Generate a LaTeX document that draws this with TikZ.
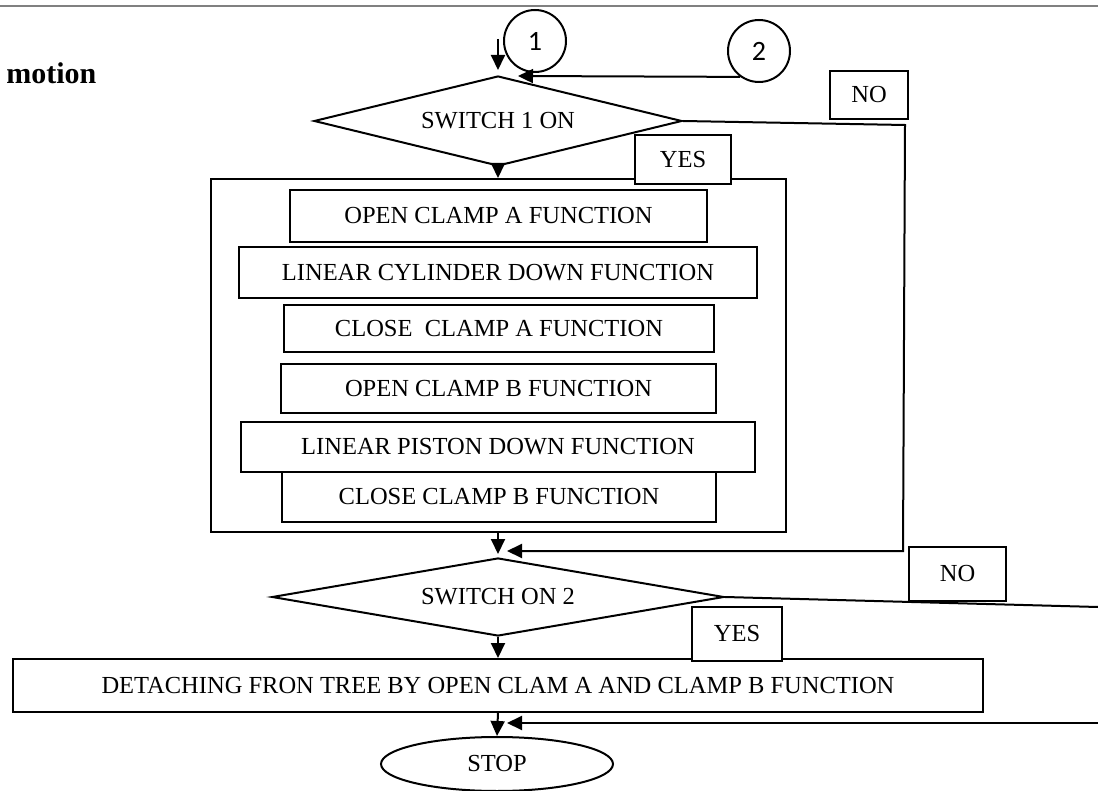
\documentclass[tikz,border=0pt]{standalone}
\usepackage{fontspec}
\setmainfont{Liberation Serif}
\newfontfamily\numfont{Carlito}
\usetikzlibrary{shapes.geometric,arrows.meta}

\begin{document}
\begin{tikzpicture}[x=1pt,y=-1pt,line width=2pt,>={Triangle[length=15pt,width=14pt]},
  box/.style={draw,rectangle,inner sep=0pt,font=\fontsize{24.5}{28}\selectfont},
  tag/.style={box,fill=white},
  dec/.style={draw,diamond,aspect=4,inner sep=0pt,font=\fontsize{24.5}{28}\selectfont},
  conn/.style={draw,circle,minimum size=62pt,inner sep=0pt,font=\numfont\fontsize{28}{30}\selectfont},
  term/.style={draw,ellipse,inner sep=0pt,font=\fontsize{24.5}{28}\selectfont}]
\useasboundingbox (0,0) rectangle (1098,791);
\draw[gray,line width=2.5pt] (0,6) -- (1098,6);

\node[anchor=base west,font=\bfseries\fontsize{30}{34}\selectfont] (motion) at (2,84) {motion};

\node[conn] (c1) at (535,41) {1};
\node[conn] (c2) at (759,51) {2};
\node[dec,minimum width=368pt,minimum height=90pt] (sw1) at (498,121) {SWITCH 1 ON};
\node[box,minimum width=575pt,minimum height=353pt] (outer) at (498.5,355.5) {};
\node[tag,minimum width=96pt,minimum height=49pt] (yes1) at (683,159.5) {YES};
\node[tag,minimum width=78pt,minimum height=48pt] (no1) at (869,95) {NO};

\node[box,minimum width=417pt,minimum height=52pt] (f1) at (498.5,216) {OPEN CLAMP A FUNCTION};
\node[box,minimum width=518pt,minimum height=51pt] (f2) at (498,272.5) {LINEAR CYLINDER DOWN FUNCTION};
\node[box,minimum width=430pt,minimum height=47pt] (f3) at (499,328.5) {CLOSE\ \ CLAMP A FUNCTION};
\node[box,minimum width=435pt,minimum height=49pt] (f4) at (498.5,388.5) {OPEN CLAMP B FUNCTION};
\node[box,minimum width=514pt,minimum height=50pt] (f5) at (498,447) {LINEAR PISTON DOWN FUNCTION};
\node[box,minimum width=434pt,minimum height=50pt] (f6) at (499,497) {CLOSE CLAMP B FUNCTION};

\node[dec,minimum width=452pt,minimum height=78pt] (sw2) at (498,597) {SWITCH ON 2};
\node[box,minimum width=970pt,minimum height=53pt] (detach) at (498,685.5) {DETACHING FRON TREE BY OPEN CLAM A AND CLAMP B FUNCTION};
\node[tag,minimum width=90pt,minimum height=54pt] (yes2) at (737,634) {YES};
\node[tag,minimum width=97pt,minimum height=54pt] (no2) at (957.5,574) {NO};
\node[term,minimum width=232pt,minimum height=54pt] (stop) at (497,764) {STOP};

\coordinate (in1) at (498,39);
\coordinate (in2) at (518,76);
\coordinate (n1a) at (905,125);
\coordinate (n1b) at (903,551);
\coordinate (j1) at (507,551);
\coordinate (n2a) at (1098,607);
\coordinate (n2b) at (1098,723);
\coordinate (j2) at (507,723);

\path[->] (in1) edge[shorten >=5pt] (sw1.north);
\path[->] (c2.234) edge (in2);
\path[->] (sw1.south) edge (sw1.south |- outer.north);
\draw[->] (sw1.east) -- (n1a) -- (n1b) -- (j1);
\path[->] (sw1.south |- outer.south) edge[shorten >=3pt] (sw2.north);
\path[->] (sw2.south) edge (sw2.south |- detach.north);
\draw (sw2.east) -- (n2a);
\draw[->] (n2b) -- (j2);
\path[->] (sw2.south |- detach.south) edge (stop.north);
\end{tikzpicture}
\end{document}
